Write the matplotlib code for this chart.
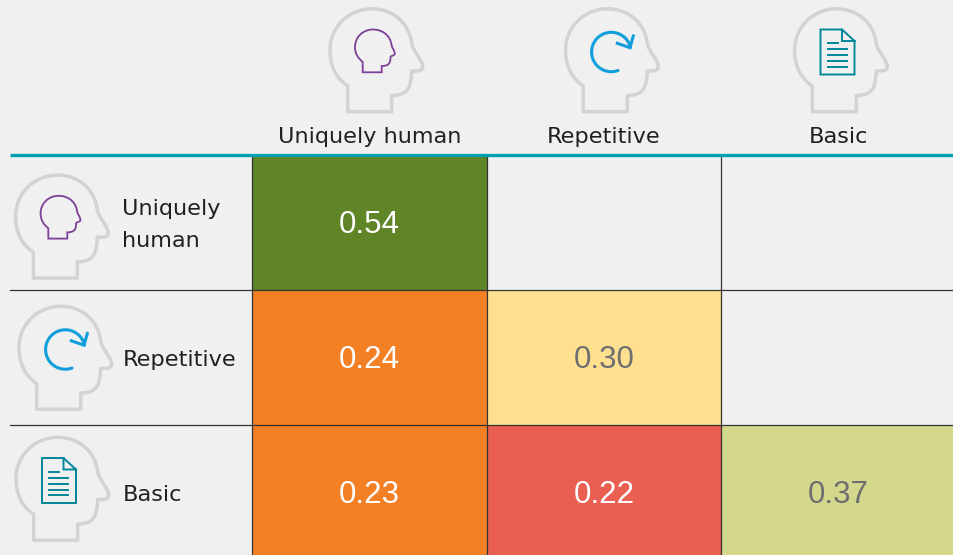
import numpy as np
import matplotlib
matplotlib.use('Agg')
import matplotlib.pyplot as plt
from matplotlib.colors import ListedColormap, BoundaryNorm
from matplotlib.path import Path
from matplotlib.patches import PathPatch

plt.rcParams['font.family'] = ['DejaVu Sans']

# Correlation table, upper triangle is empty
categories = ['Uniquely human', 'Repetitive', 'Basic']
row_labels = [['Uniquely', 'human'], ['Repetitive'], ['Basic']]
values = [[0.54, None, None],
          [0.24, 0.30, None],
          [0.23, 0.22, 0.37]]
band_limits = [0.20, 0.225, 0.25, 0.33, 0.45, 0.60]
band_colors = ['#e95f51', '#f48026', '#fee08f', '#d3d88c', '#5f8527']
dark_text_values = [0.30, 0.37]

# layout in pixels, last row and column run past the picture edge
W, H = 954, 555
col_edges = [252, 487, 721, 956]
row_edges = [155, 289.5, 424.5, 559.5]
BG = '#f0f0f0'
GRID = '#333333'
TEAL = '#00a0b0'
HEAD = '#d1d3d4'
PURPLE = '#7d3f98'
BLUE = '#109fdc'
DOC = '#00879a'
INK = '#231f20'

fig = plt.figure(figsize=(W / 100, H / 100), dpi=100, facecolor=BG)
ax = fig.add_axes([0, 0, 1, 1])
ax.set_xlim(0, W)
ax.set_ylim(H, 0)
ax.axis('off')

# Cells
grid = np.ma.masked_invalid(np.array(values, dtype=float))
ax.pcolormesh(col_edges, row_edges, grid, cmap=ListedColormap(band_colors),
              norm=BoundaryNorm(band_limits, len(band_colors)), zorder=1)

for i, row in enumerate(values):
    for j, v in enumerate(row):
        if v is None:
            continue
        color = '#6d6e71' if v in dark_text_values else 'white'
        ax.text((col_edges[j] + col_edges[j + 1]) / 2, (row_edges[i] + row_edges[i + 1]) / 2 + 11,
                '%.2f' % v, color=color, fontsize=22.5, family='Liberation Sans',
                ha='center', va='baseline', zorder=3)

# Grid lines
for x in col_edges[:-1]:
    ax.plot([x, x], [row_edges[0], H], color=GRID, lw=0.9, zorder=2)
for y in row_edges[1:3]:
    ax.plot([10, W], [y, y], color=GRID, lw=0.9, zorder=2)
ax.plot([10, W], [154.5, 154.5], color=TEAL, lw=2.4, zorder=4, solid_capstyle='butt')

M, L, C, Z = Path.MOVETO, Path.LINETO, Path.CURVE4, Path.CLOSEPOLY
OUTLINE_CODES = [M, L] + [C] * 18 + [L, Z]


def head_path(dx, dy):
    verts = [(47.7, 111.7), (47.7, 86),
             (36, 78), (30, 66), (30, 50),
             (30, 27), (48.7, 8.8), (71.7, 8.8),
             (92, 8.8), (109, 22), (111.7, 43.3),
             (113, 51), (121, 58), (122.7, 66),
             (122.7, 71), (119, 71), (111.7, 71),
             (110.7, 85), (110, 95.5), (91.7, 95.5),
             (91.7, 111.7), (47.7, 111.7)]
    return Path(np.array(verts) + [dx, dy], OUTLINE_CODES)


def face_path(dx, dy):
    verts = [(362.7, 72.3), (362.7, 62),
             (358, 58), (355, 54), (355, 47),
             (355, 37), (363, 29.5), (373, 29.5),
             (383, 29.5), (390.5, 36), (391.5, 45),
             (392, 48), (395, 51), (394.8, 54),
             (394, 56), (391, 55.5), (390.5, 57),
             (390.5, 63), (389, 66), (381.7, 66),
             (381.7, 72.3), (362.7, 72.3)]
    return Path(np.array(verts) + [dx, dy], OUTLINE_CODES)


def draw_face(dx, dy):
    ax.add_patch(PathPatch(face_path(dx, dy), fc='none', ec=PURPLE, lw=1.3, zorder=5))


def draw_arrow(dx, dy):
    # circular arrow, drawn counter-clockwise from its tip
    t = np.radians(np.linspace(-13, -290, 80))
    cx, cy = 611.3 + dx, 52 + dy
    ax.plot(cx + 19.7 * np.cos(t), cy + 19.7 * np.sin(t), color=BLUE, lw=2.2,
            solid_capstyle='round', zorder=5)
    ax.plot(np.array([633.3, 630, 617.3]) + dx, np.array([36, 47.7, 43.3]) + dy, color=BLUE,
            lw=2.2, solid_joinstyle='miter', zorder=5)


def draw_doc(dx, dy):
    x0, x1, xf = 820.5 + dx, 854.5 + dx, 842 + dx
    y0, y1, yf = 29.5 + dy, 74.5 + dy, 41 + dy
    ax.plot([xf, x0, x0, x1, x1, xf, xf, x1], [y0, y0, y1, y1, yf, y0, yf, yf],
            color=DOC, lw=1.4, zorder=5, solid_joinstyle='miter')
    for k, yy in enumerate([43, 49, 55, 61, 66.5]):
        x_end = 838 if k == 0 else 847
        ax.plot([828 + dx, x_end + dx], [yy + dy, yy + dy], color=DOC, lw=1.4, zorder=5)


def draw_head(dx, dy):
    ax.add_patch(PathPatch(head_path(dx, dy), fc='none', ec=HEAD, lw=2.5, zorder=4,
                           joinstyle='round'))


# Column header icons
draw_head(300, 0)
draw_face(0, 0)
draw_head(535.6, 0)
draw_arrow(0, 0)
draw_head(764.6, 0)
draw_doc(0, 0)

# Row header icons
draw_head(-14.4, 166.3)
draw_face(-314.4, 166.3)
draw_head(-11, 297.5)
draw_arrow(-546, 297.5)
draw_head(-14, 428.5)
draw_doc(-778.5, 428.5)

# Header labels
for j, name in enumerate(categories):
    ax.text((col_edges[j] + col_edges[j + 1]) / 2, 143.3, name,
            color=INK, fontsize=16.1, ha='center', va='baseline', zorder=5)
row_baselines = [[215, 246.7], [366], [500.7]]
for lines, ys in zip(row_labels, row_baselines):
    for lab, y in zip(lines, ys):
        ax.text(122.5, y, lab, color=INK, fontsize=16.1, ha='left', va='baseline', zorder=5)

fig.savefig('out.png', dpi=100, facecolor=BG)
